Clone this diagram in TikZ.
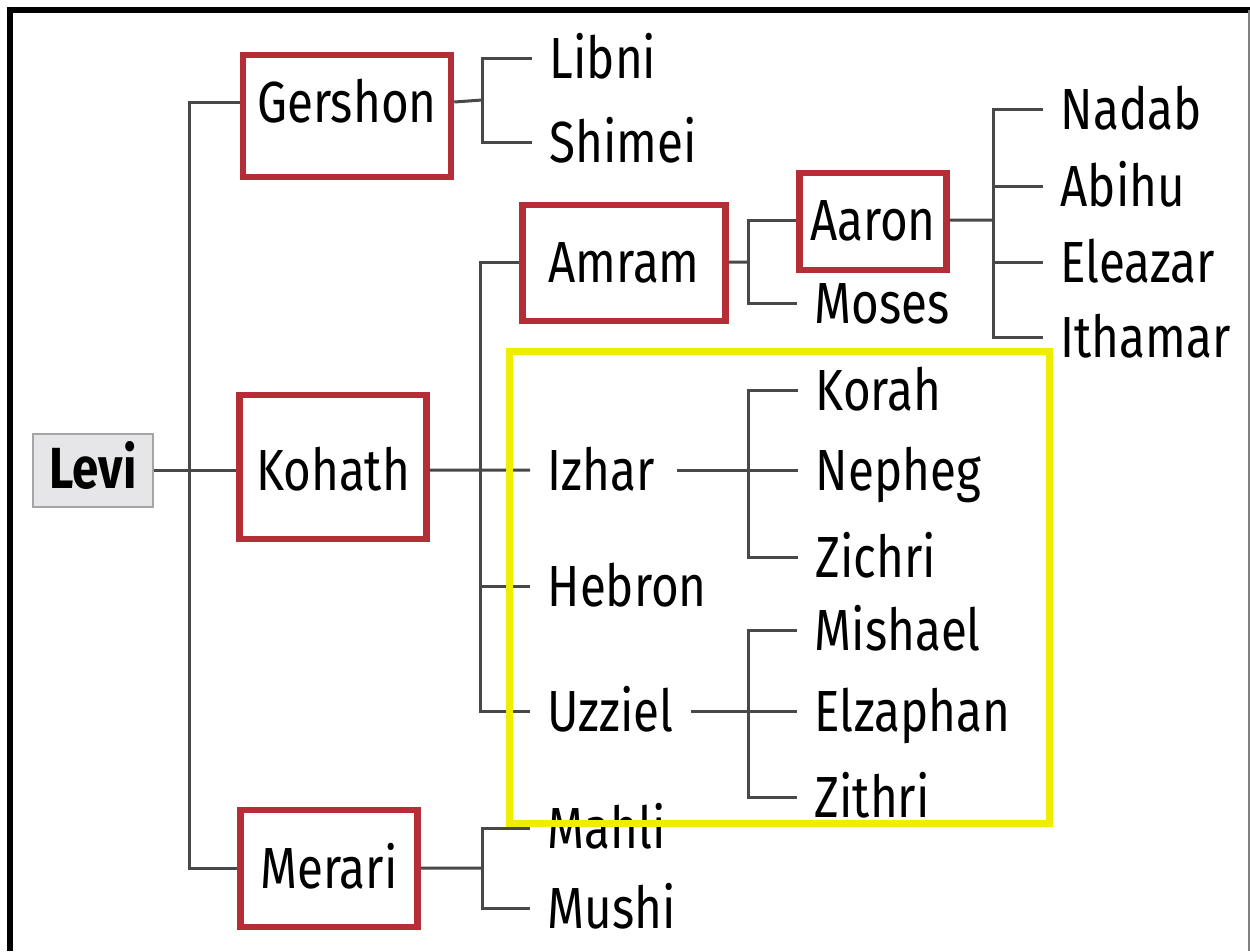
\documentclass[tikz,border=0pt]{standalone}
\usepackage{fontspec}
\setmainfont{Fira Sans}[FakeStretch=0.82]
\usetikzlibrary{positioning}

\definecolor{vermelho}{RGB}{180,45,55}
\definecolor{amarelo}{RGB}{240,238,0}
\definecolor{cinza}{RGB}{72,72,72}
\definecolor{fundolevi}{RGB}{230,230,232}
\definecolor{bordalevi}{RGB}{165,165,165}

\newcommand{\fonte}{\fontsize{16.5}{19}\selectfont}

\tikzset{
	nome/.style={font=\fonte, anchor=west, inner xsep=1.7mm, inner ysep=0pt,
		text height=4mm, text depth=0pt},
	caixa/.style={font=\fonte, draw=vermelho, line width=0.65mm, anchor=base,
		inner xsep=0pt, inner ysep=0pt},
	linha/.style={draw=cinza, line width=0.3mm}
}

\begin{document}
\begin{tikzpicture}[x=0.1mm, y=-0.1mm]
	\useasboundingbox (0,0) rectangle (1250,951);

% moldura
	\draw[line width=0.6mm] (10,951) -- (10,10) -- (1250,10);
	\draw[gray, line width=0.2mm] (1249,10) -- (1249,951);

% Levi e os filhos
	\node[font=\fonte\bfseries, draw=bordalevi, fill=fundolevi, line width=0.25mm,
		anchor=base, inner sep=0pt, minimum width=12mm,
		text height=5.4mm, text depth=1.9mm] (Levi) at (93,488) {Levi};
	\node[caixa, minimum width=20.8mm, text height=6.7mm, text depth=5.5mm] (Gershon) at (347,122) {Gershon};
	\node[caixa, minimum width=18.7mm, text height=9.5mm, text depth=4.9mm] (Kohath) at (333,490) {Kohath};
	\node[caixa, minimum width=17.7mm, text height=7.8mm, text depth=3.9mm] (Merari) at (329,888) {Merari};
	\coordinate (tronco) at (189,470);
	\draw[linha] ([yshift=2mm]Gershon.base west) -| (tronco) |- ([yshift=2mm]Merari.base west);
	\draw[linha] (Levi.east) -- (Levi.east -| Kohath.west);

% Gershon
	\node[nome] (Libni) at (532,58) {Libni};
	\node[nome] (Shimei) at (532,142) {Shimei};
	\coordinate (fGershon) at (482,100);
	\draw[linha] ([yshift=2mm]Gershon.base east) -- (fGershon);
	\draw[linha] (Libni.west) -| (fGershon) |- (Shimei.west);

% Kohath
	\node[caixa, minimum width=20.3mm, text height=7.7mm, text depth=3.9mm] (Amram) at (624,282) {Amram};
	\foreach \n/\y in {Izhar/470, Hebron/586, Uzziel/711}
		\node[nome] (\n) at (530,\y) {\n};
	\coordinate (fKohath) at (480,470);
	\draw[linha] ([yshift=2mm]Kohath.base east) -- (Izhar.west);
	\draw[linha] ([yshift=2mm]Amram.base west) -| (fKohath) |- (Uzziel.west);
	\draw[linha] (fKohath |- Hebron.west) -- (Hebron.west);

% Amram
	\node[caixa, minimum width=14.7mm, text height=6.7mm, text depth=3.0mm] (Aaron) at (873,240) {Aaron};
	\node[nome] (Moses) at (797,303) {Moses};
	\coordinate (fAmram) at (748,262);
	\draw[linha] ([yshift=2mm]Amram.base east) -- (fAmram);
	\draw[linha] ([yshift=2mm]Aaron.base west) -| (fAmram) |- (Moses.west);

% Aaron
	\foreach \n/\y in {Nadab/109, Abihu/186, Eleazar/262, Ithamar/337}
		\node[nome] (\n) at (1043,\y) {\n};
	\coordinate (fAaron) at (993,220);
	\draw[linha] ([yshift=2mm]Aaron.base east) -- (fAaron);
	\draw[linha] (Nadab.west) -| (fAaron) |- (Ithamar.west);
	\foreach \n in {Abihu, Eleazar}
		\draw[linha] (fAaron |- \n.west) -- (\n.west);

% Izhar
	\foreach \n/\y in {Korah/390, Nepheg/470, Zichri/557}
		\node[nome] (\n) at (798,\y) {\n};
	\coordinate (fIzhar) at (748,470);
	\draw[linha] ([xshift=0.5mm]Izhar.east) -- (Nepheg.west);
	\draw[linha] (Korah.west) -| (fIzhar) |- (Zichri.west);

% Uzziel
	\foreach \n/\y in {Mishael/630, Elzaphan/711, Zithri/797}
		\node[nome] (\n) at (797,\y) {\n};
	\coordinate (fUzziel) at (748,711);
	\draw[linha] (Uzziel.east) -- (Elzaphan.west);
	\draw[linha] (Mishael.west) -| (fUzziel) |- (Zithri.west);

% Merari
	\node[nome] (Mahli) at (530,828) {Mahli};
	\node[nome] (Mushi) at (530,908) {Mushi};
	\coordinate (fMerari) at (482,868);
	\draw[linha] ([yshift=2mm]Merari.base east) -- (fMerari);
	\draw[linha] (Mahli.west) -| (fMerari) |- (Mushi.west);

% destaque amarelo
	\draw[amarelo, line width=0.7mm] (509,351) rectangle (1049,823);
\end{tikzpicture}
\end{document}
